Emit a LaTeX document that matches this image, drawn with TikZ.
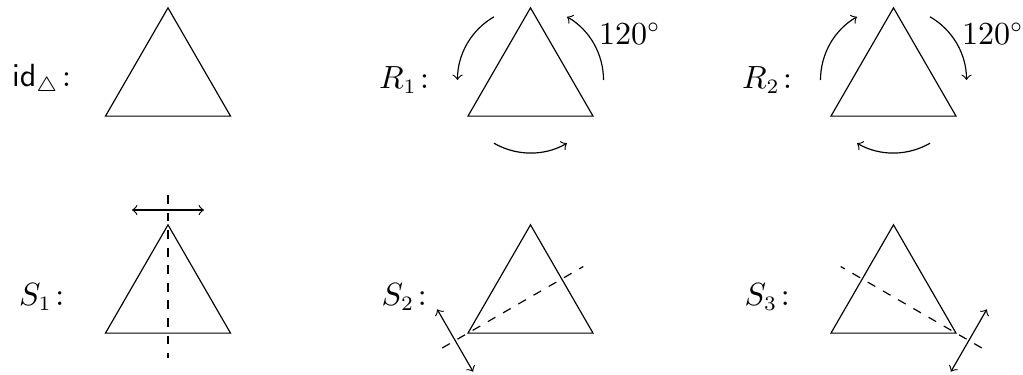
\documentclass[tikz,border=0pt]{standalone}
\usepackage{amsmath}
\usetikzlibrary{calc}
\begin{document}
\begin{tikzpicture}[x=0.3413pt,y=0.3413pt,
  every node/.style={font=\fontsize{10.5}{12.6}\selectfont},
  tri/.style={draw, line join=miter},
  axisline/.style={dashed},
  flip/.style={<->},
  turn/.style={->},
  lbl/.style={anchor=center},
  deg/.style={anchor=west, inner sep=0pt}]
\useasboundingbox (0,0) rectangle (1023,374);
% centroids
\coordinate (c1) at (168,294);
\coordinate (c2) at (530.5,294);
\coordinate (c3) at (893.5,294);
\coordinate (c4) at (168,77);
\coordinate (c5) at (530.5,77);
\coordinate (c6) at (893.5,77);
% triangles
\foreach \i in {1,...,6} {
  \coordinate (a\i) at ($(c\i)+(90:72.17)$);
  \coordinate (b\i) at ($(c\i)+(210:72.17)$);
  \coordinate (d\i) at ($(c\i)+(330:72.17)$);
  \draw[tri] (a\i) -- (b\i) -- (d\i) -- cycle;
}
% labels
\node[lbl] (l1) at ($(c1)+(-121,0)$) {$\mathsf{id}_\triangle\colon$};
\node[lbl] (l2) at ($(c2)+(-121,0)$) {$R_1\colon$};
\node[lbl] (l3) at ($(c3)+(-121,0)$) {$R_2\colon$};
\node[lbl] (l4) at ($(c4)+(-121,0)$) {$S_1\colon$};
\node[lbl] (l5) at ($(c5)+(-121,0)$) {$S_2\colon$};
\node[lbl] (l6) at ($(c6)+(-121,0)$) {$S_3\colon$};
% R1 rotation arrows
\draw[turn] ($(c2)+(0:73)$) arc[start angle=0, end angle=60, radius=73];
\draw[turn] ($(c2)+(120:73)$) arc[start angle=120, end angle=180, radius=73];
\draw[turn] ($(c2)+(240:73)$) arc[start angle=240, end angle=300, radius=73];
\node[deg] (t2) at ($(c2)+(68,46)$) {$120^\circ$};
% R2 rotation arrows
\draw[turn] ($(c3)+(60:73)$) arc[start angle=60, end angle=0, radius=73];
\draw[turn] ($(c3)+(180:73)$) arc[start angle=180, end angle=120, radius=73];
\draw[turn] ($(c3)+(300:73)$) arc[start angle=300, end angle=240, radius=73];
\node[deg] (t3) at ($(c3)+(68,46)$) {$120^\circ$};
% S1
\draw[axisline] ($(c4)+(90:102)$) -- ($(c4)+(270:61)$);
\draw[flip] ($(c4)+(90:87)+(180:36)$) -- ($(c4)+(90:87)+(0:36)$);
% S2
\draw[axisline] ($(c5)+(210:102)$) -- ($(c5)+(30:61)$);
\draw[flip] ($(c5)+(210:87)+(120:36)$) -- ($(c5)+(210:87)+(300:36)$);
% S3
\draw[axisline] ($(c6)+(330:102)$) -- ($(c6)+(150:61)$);
\draw[flip] ($(c6)+(330:87)+(240:36)$) -- ($(c6)+(330:87)+(60:36)$);
\end{tikzpicture}
\end{document}
